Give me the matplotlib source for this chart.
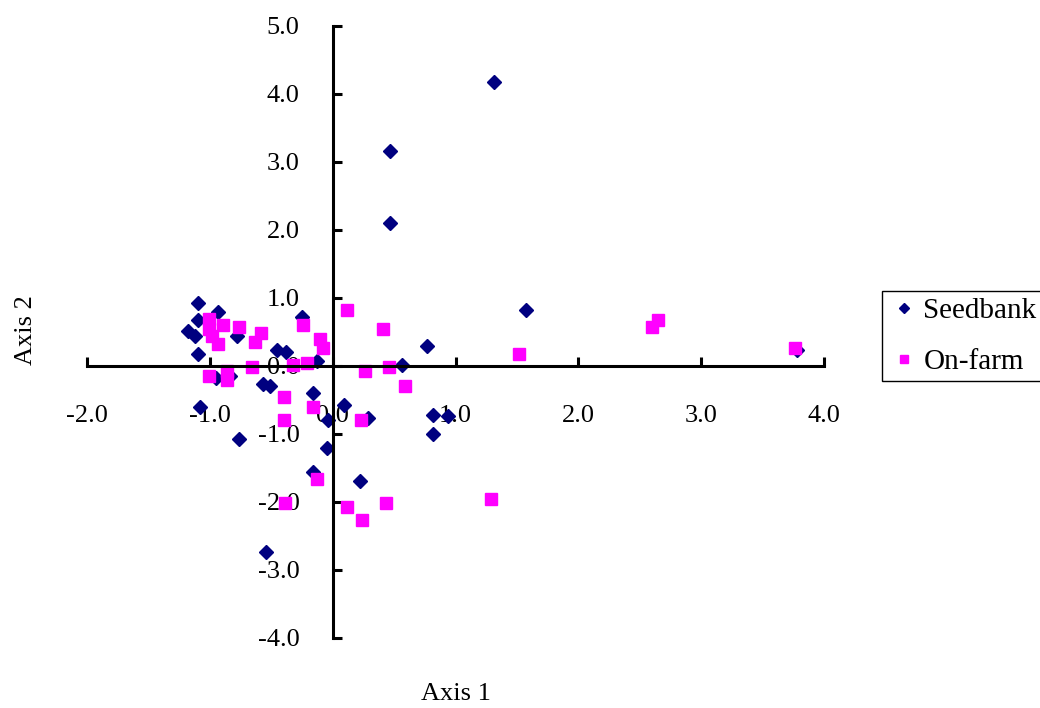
import matplotlib
matplotlib.use('Agg')
import matplotlib.pyplot as plt
import numpy as np

plt.rcParams['font.family'] = ['Liberation Serif', 'DejaVu Serif']
plt.rcParams['axes.unicode_minus'] = False

# seedbank accessions (axis 1, axis 2)
seed_x = [1.31, 0.47, 0.47, 1.57, 0.77, 0.56, 0.82, 0.94, 0.82, 0.29,
          0.09, -0.04, -0.16, -0.05, -0.16, 0.22, -0.25, -0.45, -0.38, -0.13,
          -1.10, -0.93, -1.10, -1.18, -1.12, -0.78, -1.10, -0.95, -0.84, -0.57,
          -0.51, -1.08, -0.76, -0.54, 3.78]
seed_y = [4.18, 3.16, 2.10, 0.83, 0.30, 0.01, -0.72, -0.73, -1.00, -0.77,
          -0.57, -0.79, -0.39, -1.20, -1.56, -1.69, 0.72, 0.24, 0.20, 0.07,
          0.92, 0.79, 0.67, 0.51, 0.44, 0.44, 0.18, -0.18, -0.15, -0.26,
          -0.30, -0.60, -1.08, -2.73, 0.23]

# on-farm accessions
farm_x = [0.12, -1.01, -0.89, -0.76, -1.01, -0.98, -0.93, -0.58, -0.63, -0.24,
          -0.10, -0.08, -0.21, -0.32, -0.66, -0.86, -1.01, -0.86, -0.40, -0.16,
          -0.40, 0.23, 0.41, 0.26, 0.46, 0.59, -0.13, -0.39, 0.12, 0.24,
          0.43, 1.29, 1.52, 2.65, 2.60, 3.76]
farm_y = [0.82, 0.69, 0.61, 0.58, 0.54, 0.44, 0.32, 0.49, 0.35, 0.61,
          0.39, 0.27, 0.05, 0.01, -0.01, -0.08, -0.15, -0.20, -0.45, -0.60,
          -0.79, -0.80, 0.55, -0.08, -0.02, -0.30, -1.66, -2.02, -2.08, -2.26,
          -2.02, -1.96, 0.17, 0.67, 0.57, 0.26]

fig = plt.figure(figsize=(10.4, 7.08), dpi=100)
ax = fig.add_axes([0.0837, 0.0989, 0.7087, 0.8644])

ax.plot(seed_x, seed_y, linestyle='none', marker='D', markersize=7.3,
        color='#000080', label='Seedbank')
ax.plot(farm_x, farm_y, linestyle='none', marker='s', markersize=8.3,
        color='#FF00FF', label='On-farm')

ax.set_xlim(-2, 4)
ax.set_ylim(-4, 5)
ax.set_xticks(np.arange(-2, 4.01, 1))
ax.set_yticks(np.arange(-4, 5.01, 1))
ax.xaxis.set_major_formatter(matplotlib.ticker.FormatStrFormatter('%.1f'))
ax.yaxis.set_major_formatter(matplotlib.ticker.FormatStrFormatter('%.1f'))

ax.spines['left'].set_position(('data', 0))
ax.spines['bottom'].set_position(('data', 0))
ax.spines['top'].set_visible(False)
ax.spines['right'].set_visible(False)
for s in ['left', 'bottom']:
    ax.spines[s].set_linewidth(2.2)

ax.tick_params(axis='x', direction='in', length=6.5, width=2.2, pad=28, labelsize=19)
ax.tick_params(axis='y', direction='in', length=6.5, width=2.2, pad=24, labelsize=19)

fig.text(0.4385, 0.020, 'Axis 1', ha='center', va='center', fontsize=19)
fig.text(0.025, 0.534, 'Axis 2', ha='center', va='center', fontsize=19, rotation=90)

leg = fig.legend(loc='upper left', bbox_to_anchor=(882 / 1040, 1 - 291 / 708),
                 borderaxespad=0, fontsize=21, frameon=True, fancybox=False,
                 handlelength=1.05, handletextpad=0.15, borderpad=0.22,
                 labelspacing=0.85, markerscale=0.75)
leg.get_frame().set_edgecolor('black')
leg.get_frame().set_linewidth(1.0)
leg.get_frame().set_alpha(1)

fig.savefig('out.png', dpi=100)
